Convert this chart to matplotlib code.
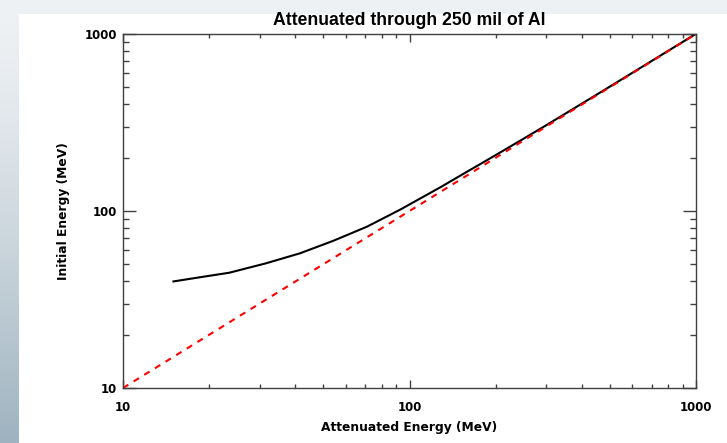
import matplotlib
matplotlib.use("Agg")
import matplotlib.pyplot as plt
import numpy as np
from matplotlib.ticker import LogLocator, NullFormatter, FixedLocator, FixedFormatter

plt.rcParams["font.family"] = ["Liberation Sans", "DejaVu Sans"]

# curve (attenuated energy -> initial energy, MeV)
atten_e = [15, 18.5, 23.5, 31.5, 41.5, 54, 71, 93, 128, 150, 200, 250, 300, 500, 1000]
initial_e = [40, 42.2, 44.8, 50.6, 57.7, 67.7, 81.5, 102, 136, 158, 207, 256, 305, 504, 1003]
# reference line y = x
ref_e = [10, 1000]

fig = plt.figure(figsize=(7.27, 4.43), dpi=100)
fig.patch.set_facecolor("white")

# page background: gray strip on top, gradient strip at left
bg = fig.add_axes([0, 0, 1, 1], zorder=-10)
bg.set_xlim(0, 727)
bg.set_ylim(443, 0)
bg.axis("off")
bg.add_patch(plt.Rectangle((0, 0), 727, 14, color="#eef1f3", lw=0))
grad = np.linspace(0, 1, 200).reshape(-1, 1)
top_c = np.array([0.94, 0.95, 0.96])
bot_c = np.array([0.62, 0.70, 0.75])
img = top_c + (bot_c - top_c) * grad[:, :, None] ** 1.3
bg.imshow(img, extent=[0, 19, 443, 0], aspect="auto")

ax = fig.add_axes([123 / 727, 1 - 388 / 443, 573 / 727, 354 / 443])
ax.plot(atten_e, initial_e, color="black", lw=1.5)
ax.plot(ref_e, ref_e, color="red", lw=1.5, ls=(0, (3, 3)))
ax.set_xscale("log")
ax.set_yscale("log")
ax.set_xlim(10, 1000)
ax.set_ylim(10, 1000)

for a in (ax.xaxis, ax.yaxis):
    a.set_major_locator(FixedLocator([10, 100, 1000]))
    a.set_major_formatter(FixedFormatter(["10", "100", "1000"]))
    a.set_minor_locator(LogLocator(base=10, subs=np.arange(2, 10)))
    a.set_minor_formatter(NullFormatter())

ax.tick_params(which="both", direction="in", top=True, right=True,
               color="#404040", width=1)
ax.tick_params(axis="x", which="major", length=5.8, pad=9.5)
ax.tick_params(axis="x", which="minor", length=2.9)
ax.tick_params(axis="y", which="major", length=9.4, pad=4.5)
ax.tick_params(axis="y", which="minor", length=4.3)
for lab in ax.get_xticklabels() + ax.get_yticklabels():
    lab.set_fontfamily("DejaVu Sans")
    lab.set_fontweight("bold")
    lab.set_fontsize(8.5)
for s in ax.spines.values():
    s.set_color("#404040")
    s.set_linewidth(1)

ax.set_title("Attenuated through 250 mil of Al", fontsize=12.7,
             fontweight="bold", pad=6.5)
ax.set_xlabel("Attenuated Energy (MeV)", fontsize=8.8, fontweight="bold",
              family="DejaVu Sans")
ax.set_ylabel("Initial Energy (MeV)", fontsize=8.8, fontweight="bold",
              family="DejaVu Sans")
ax.xaxis.set_label_coords(0.5, (388 - 421) / 354)
ax.yaxis.set_label_coords((69.5 - 123) / 573, 0.5)

plt.savefig("out.png", dpi=100)
